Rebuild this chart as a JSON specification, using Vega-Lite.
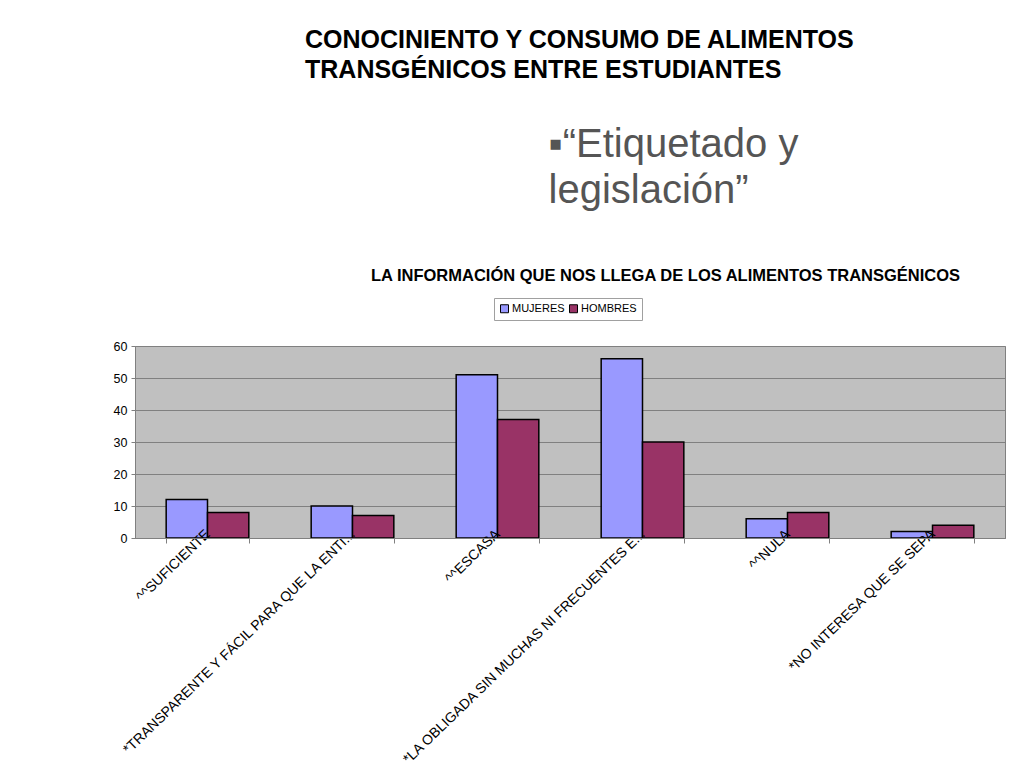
{
  "$schema": "https://vega.github.io/schema/vega-lite/v6.json",
  "autosize": {"type": "none"},
  "width": 870,
  "height": 192,
  "padding": {"left": 135, "top": 346, "right": 19, "bottom": 230},
  "background": "#ffffff",
  "title": {
    "text": ["CONOCINIENTO Y CONSUMO DE ALIMENTOS", "TRANSGÉNICOS ENTRE ESTUDIANTES"],
    "anchor": "start",
    "frame": "group",
    "dx": 170,
    "dy": -31,
    "offset": 10,
    "font": "Liberation Sans",
    "fontSize": 25,
    "fontWeight": "bold",
    "lineHeight": 30,
    "color": "#000000"
  },
  "data": {
    "values": [
      {"categoria": "^^SUFICIENTE", "grupo": "MUJERES", "valor": 12},
      {"categoria": "^^SUFICIENTE", "grupo": "HOMBRES", "valor": 8},
      {"categoria": "*TRANSPARENTE Y FÁCIL PARA QUE LA ENTI...", "grupo": "MUJERES", "valor": 10},
      {"categoria": "*TRANSPARENTE Y FÁCIL PARA QUE LA ENTI...", "grupo": "HOMBRES", "valor": 7},
      {"categoria": "^^ESCASA", "grupo": "MUJERES", "valor": 51},
      {"categoria": "^^ESCASA", "grupo": "HOMBRES", "valor": 37},
      {"categoria": "*LA OBLIGADA SIN MUCHAS NI FRECUENTES E...", "grupo": "MUJERES", "valor": 56},
      {"categoria": "*LA OBLIGADA SIN MUCHAS NI FRECUENTES E...", "grupo": "HOMBRES", "valor": 30},
      {"categoria": "^^NULA", "grupo": "MUJERES", "valor": 6},
      {"categoria": "^^NULA", "grupo": "HOMBRES", "valor": 8},
      {"categoria": "*NO INTERESA QUE SE SEPA", "grupo": "MUJERES", "valor": 2},
      {"categoria": "*NO INTERESA QUE SE SEPA", "grupo": "HOMBRES", "valor": 4}
    ]
  },
  "mark": {"type": "bar", "stroke": "#000000", "strokeWidth": 1.5},
  "encoding": {
    "x": {
      "field": "categoria",
      "type": "nominal",
      "sort": null,
      "scale": {"paddingInner": 0.43, "paddingOuter": 0.215},
      "axis": {
        "zindex": 1,
        "title": "LA INFORMACIÓN QUE NOS LLEGA DE LOS ALIMENTOS TRANSGÉNICOS",
        "titleX": 530,
        "titleY": -263,
        "titleAngle": 0,
        "titleAlign": "center",
        "titleBaseline": "middle",
        "titleFont": "Liberation Sans",
        "titleFontSize": 16.5,
        "titleFontWeight": "bold",
        "titleColor": "#000000",
        "labelAngle": -44,
        "labelAlign": "right",
        "labelBaseline": "middle",
        "labelFont": "Liberation Sans",
        "labelFontSize": 14,
        "labelColor": "#000000",
        "labelLimit": 0,
        "labelPadding": -11,
        "tickBand": "extent",
        "tickColor": "#808080",
        "tickSize": 5,
        "domainColor": "#808080",
        "grid": false
      }
    },
    "xOffset": {"field": "grupo", "type": "nominal", "sort": ["MUJERES", "HOMBRES"], "scale": {"paddingInner": 0, "paddingOuter": 0}},
    "y": {
      "field": "valor",
      "type": "quantitative",
      "scale": {"domain": [0, 60]},
      "axis": {
        "values": [0, 10, 20, 30, 40, 50, 60],
        "title": ["▪“Etiquetado y", "legislación”"],
        "titleX": 413,
        "titleY": -190,
        "titleAngle": 0,
        "titleAlign": "left",
        "titleBaseline": "alphabetic",
        "titleFont": "Liberation Sans",
        "titleFontSize": 40,
        "titleFontWeight": "normal",
        "titleColor": "#555555",
        "titleLineHeight": 46,
        "labelFont": "Liberation Sans",
        "labelFontSize": 12.5,
        "labelColor": "#000000",
        "labelPadding": 4,
        "tickColor": "#808080",
        "tickSize": 4,
        "domainColor": "#808080",
        "gridColor": "#808080",
        "gridWidth": 1
      }
    },
    "color": {
      "field": "grupo",
      "type": "nominal",
      "sort": ["MUJERES", "HOMBRES"],
      "scale": {"domain": ["MUJERES", "HOMBRES"], "range": ["#9999FF", "#993366"]},
      "legend": {
        "title": null,
        "orient": "none",
        "legendX": 359,
        "legendY": -48,
        "direction": "horizontal",
        "symbolType": "square",
        "symbolSize": 64,
        "symbolStrokeColor": "#000000",
        "symbolStrokeWidth": 1,
        "labelFont": "Liberation Sans",
        "labelFontSize": 11,
        "labelColor": "#000000",
        "columnPadding": 2,
        "symbolOffset": 0,
        "labelOffset": 2,
        "padding": 5,
        "strokeColor": "#a0a0a0",
        "fillColor": "#ffffff"
      }
    }
  },
  "config": {
    "view": {"fill": "#c0c0c0", "stroke": "#808080", "strokeWidth": 1}
  }
}
